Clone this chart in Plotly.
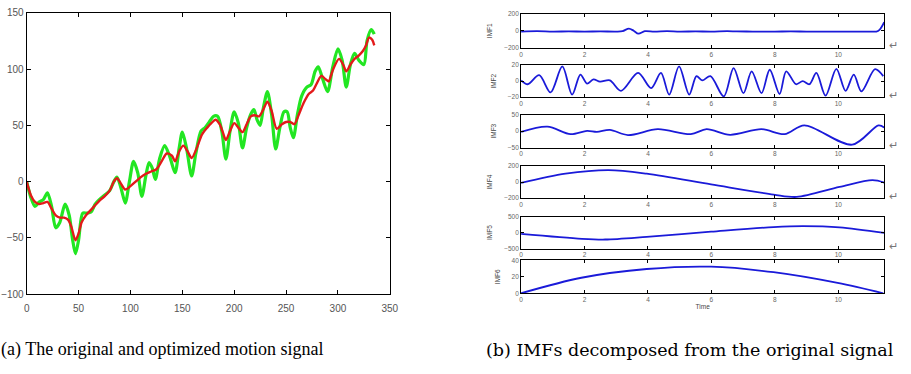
import plotly.graph_objects as go

W, H = 911, 374

# ---------- (a) original and optimized motion signal ----------
orig_x = [0, 4, 8, 12, 16, 20, 24, 28, 32, 37, 41, 44, 47, 50, 54, 58, 62, 66, 70, 75,
          80, 84, 87, 91, 95, 99, 103, 107, 111, 115, 118, 121, 124, 128, 133, 138, 143,
          147, 150, 154, 159, 163, 168, 172, 176, 180, 184, 188, 192, 196, 200, 204, 208,
          212, 216, 219, 222, 225, 228, 232, 236, 240, 244, 248, 251, 254, 257, 261, 265,
          270, 274, 278, 281, 285, 290, 295, 300, 304, 308, 312, 316, 320, 325, 328, 332, 335]
orig_y = [0, -14, -22, -18, -16, -10, -22, -41, -36, -20, -30, -50, -64, -52, -28, -28, -27,
          -20, -16, -12, -8, 0, 4, -6, -19, 0, 18, 8, -13, 6, 17, 12, 2, 20, 32, 22, 8, 30,
          44, 30, 5, 25, 45, 48, 53, 58, 58, 45, 20, 45, 62, 52, 30, 48, 60, 64, 55, 50, 65,
          80, 60, 29, 48, 62, 62, 48, 39, 60, 76, 84, 86, 98, 102, 92, 80, 102, 118, 108, 84,
          104, 114, 108, 104, 125, 135, 131]

opt_x = [0, 4, 8, 12, 16, 20, 24, 28, 32, 36, 40, 43, 47, 50, 53, 57, 61, 65, 70, 75, 80,
         84, 87, 91, 95, 100, 105, 110, 115, 120, 125, 130, 135, 140, 143, 147, 151, 155,
         159, 164, 169, 174, 178, 182, 186, 189, 192, 196, 200, 204, 208, 212, 216, 220,
         224, 228, 232, 236, 241, 246, 250, 254, 258, 262, 267, 272, 276, 280, 284, 288,
         291, 295, 301, 305, 308, 312, 316, 320, 324, 327, 330, 333, 335]
opt_y = [0, -12, -18, -20, -19, -18, -24, -30, -32, -32, -34, -40, -52, -46, -36, -30, -26,
         -22, -17, -13, -8, 0, 3, -2, -7, -4, 0, 4, 7, 9, 11, 18, 25, 23, 18, 27, 32, 27,
         21, 30, 42, 48, 52, 55, 51, 44, 37, 45, 52, 48, 44, 51, 58, 59, 58, 64, 71, 63,
         47, 51, 53, 53, 51, 59, 70, 78, 81, 88, 94, 91, 89, 99, 109, 104, 98, 104, 109,
         112, 116, 121, 128, 126, 121]

a_xticks = [0, 50, 100, 150, 200, 250, 300, 350]
a_yticks = [-100, -50, 0, 50, 100, 150]

# ---------- (b) IMFs ----------
imf1_t = [0, 0.5, 1, 1.5, 2, 2.5, 3, 3.2, 3.4, 3.55, 3.7, 3.9, 4.2, 4.6, 5, 5.5, 6, 6.5,
          6.8, 7.3, 8, 8.5, 9, 9.5, 10, 10.5, 11, 11.2, 11.3, 11.45]
imf1_v = [-10, -5, -10, -8, -10, -8, -10, -5, 25, 0, -35, -5, -10, -5, -10, -8, -10, -5,
          -8, -10, -10, -8, -10, -10, -10, -10, -10, -10, 10, 100]

imf2_t = [0, 0.21, 0.57, 0.93, 1.30, 1.61, 1.87, 2.08, 2.28, 2.49, 2.80, 3.15, 3.69, 4.10,
          4.41, 4.67, 4.98, 5.30, 5.53, 5.71, 5.97, 6.39, 6.70, 7.01, 7.27, 7.58, 7.84,
          8.15, 8.36, 8.67, 8.88, 9.09, 9.31, 9.60, 9.94, 10.23, 10.49, 10.73, 11.16, 11.42]
imf2_v = [1, -3.8, 7.5, -14, 18.4, -16.8, 8.3, -3, 2.2, -0.6, 1, -12, 10.3, -8.7, 10.3,
          -16.8, 18.4, -16.8, 6.3, 1, 6.3, -19, 16.4, -15, 12.3, -15, 14.3, -16, 12.3,
          -3.8, 0.2, -3.8, 10.3, -18, 15.5, -12, 8.3, -12.7, 15, 6.3]

imf3_t = [0, 0.83, 1.56, 2.08, 2.39, 2.80, 3.37, 4.31, 5.35, 5.85, 6.59, 7.58, 8.31, 8.93,
          10.44, 11.27, 11.45]
imf3_v = [-2, 13.7, -9, 1, -2, 3.8, -11.8, 6, -9, 6, -11, 6, -9, 17.6, -41, 17.6, 11]

imf4_t = [0, 1.4, 2.76, 3.96, 5.99, 7.96, 8.69, 10.04, 11.08, 11.45]
imf4_v = [-10, 105, 150, 105, -28, -155, -185, -60, 25, -5]

imf5_t = [0, 1.92, 2.65, 3.96, 5.99, 7.96, 8.89, 10.04, 11.45]
imf5_v = [-41, -194, -216, -133, 29, 173, 203, 164, -11]

imf6_t = [0, 1.9, 3.96, 5.99, 7.96, 9.98, 11.42]
imf6_v = [0, 18.8, 29.4, 32.2, 25.5, 12.5, 0]

imf_names = ["IMF1", "IMF2", "IMF3", "IMF4", "IMF5", "IMF6"]
imf_ranges = [[-200, 200], [-20, 20], [-50, 50], [-200, 200], [-500, 500], [0, 40]]
imf_yticks = [[-200, 0, 200], [-20, 0, 20], [-50, 0, 50], [-200, 0, 200],
              [-500, 0, 500], [0, 20, 40]]
imf_xticks = [0, 2, 4, 6, 8, 10]
imf_series = [(imf1_t, imf1_v), (imf2_t, imf2_v), (imf3_t, imf3_v),
              (imf4_t, imf4_v), (imf5_t, imf5_v), (imf6_t, imf6_v)]

# pixel boxes (top, bottom) of each IMF panel
imf_boxes = [(9, 44), (62, 95), (113, 147), (166, 199), (218, 251), (263, 297)]


def px_x(p):
    return p / W


def px_y(p):
    return 1 - p / H


fig = go.Figure()

fig.add_trace(go.Scatter(x=orig_x, y=orig_y, mode="lines", xaxis="x", yaxis="y",
                         line=dict(color="#22e622", width=3.2, shape="spline", smoothing=0.8),
                         showlegend=False, hoverinfo="skip"))
fig.add_trace(go.Scatter(x=opt_x, y=opt_y, mode="lines", xaxis="x", yaxis="y",
                         line=dict(color="#e31a1a", width=2.4, shape="spline", smoothing=0.8),
                         showlegend=False, hoverinfo="skip"))

axis_common = dict(showline=True, linecolor="black", linewidth=1, mirror="ticks",
                   ticks="inside", tickcolor="black", showgrid=False, zeroline=False)

layout = dict(
    width=W, height=H, margin=dict(l=0, r=0, t=0, b=0),
    paper_bgcolor="white", plot_bgcolor="white", showlegend=False,
    xaxis=dict(domain=[px_x(24), px_x(392)], range=[0, 350], tickvals=a_xticks,
               ticklen=4, ticklabelstandoff=5,
               tickfont=dict(family="Liberation Sans", size=10, color="#555"),
               anchor="y", **axis_common),
    yaxis=dict(domain=[px_y(298), px_y(8)], range=[-100, 150], tickvals=a_yticks,
               ticklen=4, tickfont=dict(family="Liberation Sans", size=10, color="#555"),
               anchor="x", **axis_common),
)

for i, ((t, v), name, rng, yt, box) in enumerate(zip(imf_series, imf_names, imf_ranges,
                                                      imf_yticks, imf_boxes)):
    k = i + 2
    xa, ya = f"x{k}", f"y{k}"
    fig.add_trace(go.Scatter(x=t, y=v, mode="lines", xaxis=xa, yaxis=ya,
                             line=dict(color="#1a1ad9", width=1.8, shape="spline", smoothing=0.9),
                             showlegend=False, hoverinfo="skip"))
    top, bot = box
    layout[f"xaxis{k}"] = dict(domain=[px_x(525), px_x(893)], range=[0, 11.45],
                               tickvals=imf_xticks, ticklen=3,
                               tickfont=dict(family="Liberation Sans", size=6.5, color="#666"),
                               anchor=ya, **axis_common)
    layout[f"yaxis{k}"] = dict(domain=[px_y(bot), px_y(top)], range=rng, tickvals=yt,
                               ticklen=3,
                               tickfont=dict(family="Liberation Sans", size=6.5, color="#666"),
                               title=dict(text=name, standoff=10,
                                          font=dict(family="Liberation Sans", size=6.5,
                                                    color="#444")),
                               anchor=xa, **axis_common)
    if i < 5:
        layout.setdefault("annotations", []).append(
            dict(x=px_x(902), y=px_y(bot - 3), xref="paper", yref="paper", text="↵",
                 showarrow=False, font=dict(size=11, color="#777"),
                 xanchor="center", yanchor="middle"))

layout["xaxis7"]["title"] = dict(text="Time", standoff=2,
                                 font=dict(family="Liberation Sans", size=6.5, color="#444"))

layout.setdefault("annotations", []).extend([
    dict(x=px_x(327), y=px_y(355), xref="paper", yref="paper",
         text="(a) The original and optimized motion signal", showarrow=False,
         xanchor="right", yanchor="middle",
         font=dict(family="Liberation Serif", size=18, color="black")),
    dict(x=px_x(487), y=px_y(355), xref="paper", yref="paper",
         text="(b) IMFs decomposed from the original signal", showarrow=False,
         xanchor="left", yanchor="middle",
         font=dict(family="DejaVu Serif", size=17.5, color="black")),
])

fig.update_layout(**layout)
fig.write_html("out.html")
